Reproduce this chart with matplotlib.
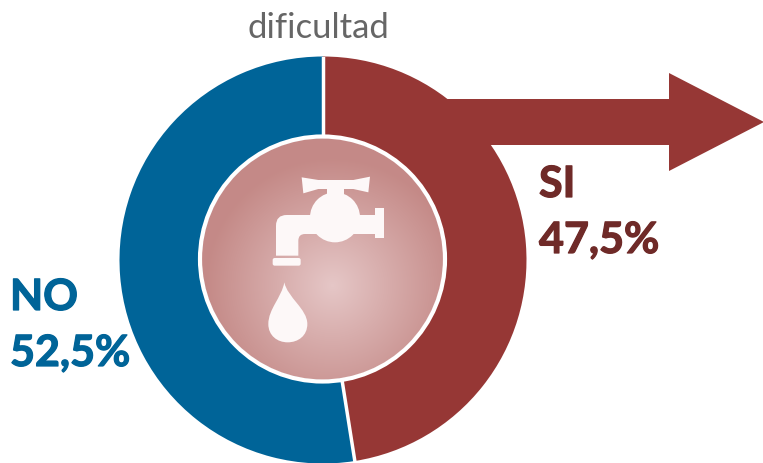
import numpy as np
import matplotlib
matplotlib.use('Agg')
import matplotlib.pyplot as plt
import matplotlib.patheffects as pe
from matplotlib.patches import Circle, Polygon, FancyBboxPatch, PathPatch
from matplotlib.path import Path

labels = ['SI', 'NO']
values = [47.5, 52.5]
value_labels = ['47,5%', '52,5%']
colors = ['#963735', '#006498']
title = 'dificultad'

W, H = 763, 464
fig = plt.figure(figsize=(W/100, H/100), dpi=100)
ax = fig.add_axes([0, 0, 1, 1])
ax.set_xlim(0, W); ax.set_ylim(H, 0); ax.axis('off')
cx, cy, R = 323, 261, 203.5

ax.add_patch(Polygon([(440,100),(669,100),(669,74),(764,123),(669,172),(669,146),(490,146)], closed=True, fc=colors[0], ec='none', zorder=1))

pax = fig.add_axes([(cx-R)/W, 1-(cy+R)/H, 2*R/W, 2*R/H])
pax.pie(values, colors=colors, startangle=90, counterclock=False, radius=1,
        wedgeprops=dict(width=1, edgecolor='none'))
pax.set_xlim(-1, 1); pax.set_ylim(-1, 1); pax.set_zorder(2); pax.patch.set_alpha(0)
pax.plot([0, 0], [0, 1], color='white', lw=2.5)
ang = np.pi/2 - 2*np.pi*values[0]/100
pax.plot([0, np.cos(ang)], [0, np.sin(ang)], color='white', lw=2.5)

top = fig.add_axes([0, 0, 1, 1]); top.set_zorder(3); top.patch.set_alpha(0)
r0 = 121; ccx, ccy = 322.5, 260
n = 400
y, x = np.mgrid[-1:1:n*1j, -1:1:n*1j]
d = np.clip(np.hypot(x - 0.08, y - 0.22) / 1.05, 0, 1)[..., None]
c0 = np.array([0.90, 0.78, 0.78]); c1 = np.array([0.77, 0.54, 0.53])
img = c0*(1-d) + c1*d
im = top.imshow(img, extent=[ccx-r0, ccx+r0, ccy+r0, ccy-r0], zorder=1, aspect='auto')
im.set_clip_path(Circle((ccx, ccy), r0, transform=top.transData))
top.set_xlim(0, W); top.set_ylim(H, 0); top.axis('off')
top.add_patch(Circle((ccx, ccy), r0+1.5, fc='none', ec='white', lw=3, zorder=2))

w = '#fdf8f8'
def Z(p):
    return [(190+a/3, 130+b/3) for a, b in p]
top.add_patch(Polygon(Z([(335,145),(385,153),(490,153),(540,143),(535,190),(490,180),(385,180),(340,193)]), closed=True, fc=w, ec='none', zorder=3))
top.add_patch(Polygon(Z([(412,175),(462,175),(462,205),(412,205)]), closed=True, fc=w, ec='none', zorder=3))
top.add_patch(Circle((190+435/3, 130+265/3), 75/3, fc=w, ec='none', zorder=3))
top.add_patch(PathPatch(Path(Z([(258,380),(258,290),(258,258),(290,258),(555,258),(555,315),(345,315),(325,315),(325,335),(325,380),(258,380)]),
    [Path.MOVETO,Path.LINETO,Path.CURVE3,Path.CURVE3,Path.LINETO,Path.LINETO,Path.LINETO,Path.CURVE3,Path.CURVE3,Path.LINETO,Path.CLOSEPOLY]), fc=w, ec='none', zorder=3))
top.add_patch(Polygon(Z([(555,237),(582,237),(582,328),(555,328)]), closed=True, fc=w, ec='none', zorder=3))
top.add_patch(FancyBboxPatch((190+248/3, 130+387/3), 84/3, 23/3, boxstyle='round,pad=0,rounding_size=2', fc=w, ec='none', zorder=3))
top.add_patch(PathPatch(Path(Z([(283,460),(275,505),(235,540),(235,585),(235,620),(262,640),(293,640),(325,640),(352,620),(352,585),(352,540),(292,505),(283,460)]),
    [Path.MOVETO]+[Path.CURVE4]*12), fc=w, ec='none', zorder=3))

f = ['Lato', 'DejaVu Sans']
def label(xp, yp, s, c):
    top.text(xp, yp, s, fontsize=31, fontweight='bold', color=c, ha='left', va='center', family=f,
             path_effects=[pe.withStroke(linewidth=0.9, foreground=c)])
top.text(318, 28, title, fontsize=25, color='#666666', ha='center', va='center', family=f)
label(539, 185, labels[0], '#6f2a28')
label(539, 241, value_labels[0], '#6f2a28')
label(10, 298, labels[1], colors[1])
label(10, 354, value_labels[1], colors[1])

fig.savefig('out.png', dpi=100)
